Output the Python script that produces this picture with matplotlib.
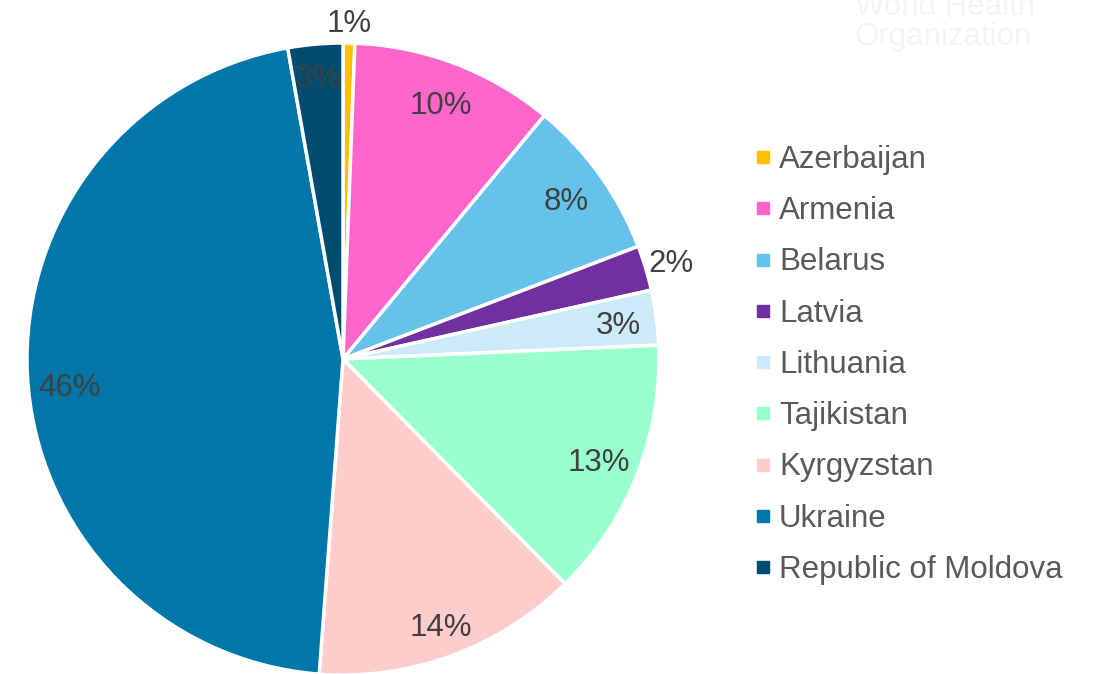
import matplotlib
matplotlib.use('Agg')
import matplotlib.pyplot as plt
from matplotlib.lines import Line2D
import numpy as np

plt.rcParams['font.family'] = ['Liberation Sans', 'DejaVu Sans']

# data (share of total, %)
countries = ['Azerbaijan', 'Armenia', 'Belarus', 'Latvia', 'Lithuania',
             'Tajikistan', 'Kyrgyzstan', 'Ukraine', 'Republic of Moldova']
shares = [0.6, 10.4, 8.2, 2.3, 2.8, 13.3, 13.6, 46.0, 2.8]
colors = ['#FFC000', '#FF66CC', '#66C2EA', '#7030A0', '#CCEAF7',
          '#99FFCC', '#FFCCCC', '#0077A8', '#004C70']
# label placement: radius (fraction of pie radius) and angle nudge (deg)
label_r = [1.07, 0.87, 0.87, 1.085, 0.88, 0.87, 0.895, 0.87, 0.90]
label_dang = [0, 0, 0, 0, 0, 0, 0, 2.4, 0]

W, H = 1096, 674
fig = plt.figure(figsize=(W / 100, H / 100), dpi=100)

# pie centre (343, 359) px, radius 316 px
cx, cy, R = 343, 359, 316
ax = fig.add_axes([(cx - R) / W, (H - cy - R) / H, 2 * R / W, 2 * R / H])

wedges, _ = ax.pie(shares, colors=colors, startangle=90, counterclock=False,
                   radius=1, wedgeprops=dict(edgecolor='white', linewidth=2.5))
ax.set_xlim(-1, 1)
ax.set_ylim(-1, 1)
ax.axis('off')

for w, v, r, d in zip(wedges, shares, label_r, label_dang):
    mid = np.deg2rad((w.theta1 + w.theta2) / 2 + d)
    ax.text(r * np.cos(mid), r * np.sin(mid), f"{round(v):.0f}%",
            ha='center', va='center_baseline', fontsize=22.5, color='#404040')

# faint watermark in top right corner (cut by the top edge, as in the source)
fig.text(855 / W, 1 - 22 / H, 'World Health\nOrganization', ha='left', va='center',
         fontsize=22.5, color='#f4f4f4', linespacing=1.0)

handles = [Line2D([], [], marker='s', linestyle='none', markersize=8.6,
                  markerfacecolor=c, markeredgecolor=c) for c in colors]
fig.legend(handles, countries, loc='upper left', bbox_to_anchor=(757 / W, 1 - 145 / H),
           frameon=False, fontsize=22.5, labelcolor='#595959', handlelength=0.384,
           handletextpad=0.32, labelspacing=0.68, borderaxespad=0, borderpad=0)

fig.savefig('out.png', dpi=100)
